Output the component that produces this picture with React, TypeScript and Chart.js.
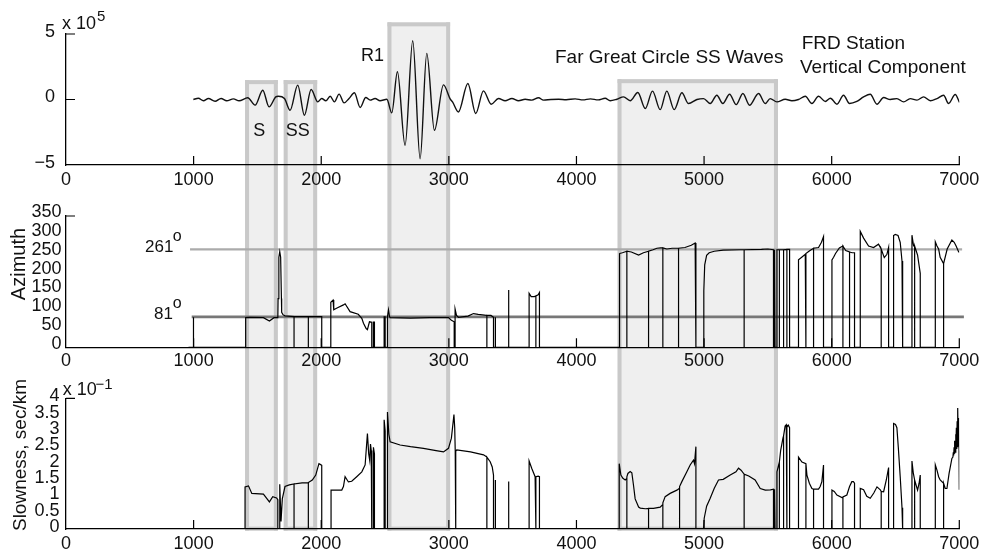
import React, { useEffect, useRef } from 'react';
import { Chart, registerables } from 'chart.js';

Chart.register(...registerables);

const FONT = '"Liberation Sans", Arial, Helvetica, sans-serif';

// ---------- axes ----------
const xTicks = [0, 1000, 2000, 3000, 4000, 5000, 6000, 7000];
const ampTicks = [-5, 0, 5]; // x 10^5
const azTicks = [0, 50, 100, 150, 200, 250, 300, 350];
const slowTicks = [0, 0.5, 1, 1.5, 2, 2.5, 3, 3.5, 4]; // x 10^-1

// ---------- highlighted windows ----------
const boxNames = ['S', 'SS', 'R1', 'Far Great Circle SS Waves'];
const boxStart = [1403, 1706, 2519, 4322];
const boxEnd = [1660, 1968, 3010, 5579];
const boxTop = [1.48, 1.48, 5.89, 1.55]; // top-panel units (x 10^5)
const boxBottom = -0.05; // slowness units

// ---------- reference azimuths ----------
const refAz = [261, 81];
const refAzStart = [972, 985];
const refAzEnd = [7022, 7036];

// ---------- seismogram (x 10^5 counts) ----------
const seismogram: [number, number][] = [
  [998, 0], [1037, 0.1], [1077, -0.1], [1116, 0.08], [1168, -0.13], [1215, 0.08], [1259, -0.1],
  [1312, 0.05], [1356, -0.1], [1424, 0.13], [1482, -0.43], [1542, 0.71], [1591, -0.56], [1644, 0.2],
  [1664, 0.25], [1712, 0.08], [1756, -0.82], [1816, 1.1], [1868, -1.2], [1921, 0.76], [1973, -0.18],
  [2004, 0.08], [2036, -0.1], [2070, 0.25], [2103, -0.18], [2140, 0.41], [2179, -0.26], [2218, 0.08],
  [2260, 0.51], [2305, -0.61], [2349, 0.15], [2383, -0.05], [2422, 0.08], [2461, -0.1], [2514, 0.02],
  [2553, -1.02], [2597, 2.12], [2657, -3.5], [2717, 4.49], [2775, -4.52], [2827, 3.52], [2887, -2.35],
  [2958, 1.12], [3010, 0.05], [3030, -0.2], [3075, -0.95], [3149, 1.22], [3211, -1.07], [3271, 0.66],
  [3332, -0.36], [3389, 0.08], [3441, -0.1], [3494, 0.08], [3546, -0.1], [3598, 0.02], [3650, -0.05],
  [3703, 0.13], [3742, -0.05], [3800, 0], [3860, 0.02], [3920, -0.02], [3990, 0.05], [4050, -0.03],
  [4110, 0.05], [4170, -0.03], [4225, 0.1], [4264, -0.1], [4317, 0.02], [4369, 0.2], [4421, -0.1],
  [4481, 0.53], [4539, -0.69], [4596, 0.64], [4656, -0.77], [4708, 0.64], [4766, -0.77], [4826, 0.51],
  [4878, -0.31], [4944, 0], [4996, 0.07], [5048, -0.31], [5100, 0.33], [5147, -0.31], [5200, 0.4],
  [5252, -0.39], [5304, 0.46], [5356, -0.44], [5427, 0.46], [5479, -0.31], [5518, 0.07], [5571, -0.18],
  [5636, 0.02], [5688, -0.1], [5740, 0], [5793, 0.25], [5845, -0.31], [5897, 0.25], [5950, -0.15],
  [5990, 0.1], [6041, -0.36], [6093, 0.33], [6140, -0.31], [6197, -0.15], [6250, 0.2], [6302, 0.4],
  [6355, -0.36], [6407, 0.15], [6459, 0], [6511, 0.07], [6564, -0.18], [6616, 0.07], [6668, -0.05],
  [6720, 0.2], [6773, -0.1], [6825, 0.07], [6877, 0.33], [6916, -0.31], [6968, 0.38], [7002, -0.23],
];

// ---------- azimuth (degrees) ----------
const azimuth: [number, number][] = [
  [960, 0], [998, 0], [998, 80], [1000, 0],
  [1408, 0], [1408, 79], [1440, 80], [1547, 79], [1594, 70], [1630, 79], [1660, 79], [1662, 130],
  [1668, 240], [1675, 255], [1682, 240], [1688, 130], [1690, 93], [1700, 87], [1716, 84], [1787, 82],
  [1787, 0], [1787, 82], [1850, 82], [1899, 82], [1899, 0], [1899, 82], [2004, 82], [2004, 0],
  [2075, 0], [2075, 120], [2093, 126], [2096, 126], [2100, 100], [2120, 104], [2174, 113], [2187, 116],
  [2226, 95], [2290, 88], [2318, 77], [2331, 64], [2352, 50], [2362, 47], [2378, 68], [2396, 67],
  [2396, 0], [2409, 0], [2409, 67], [2417, 67], [2417, 0],
  [2493, 0], [2493, 81], [2501, 81], [2501, 0], [2519, 0], [2519, 81], [2527, 100], [2535, 82],
  [2540, 79], [2700, 78], [2850, 79], [2997, 79], [3020, 72], [3042, 68], [3042, 0], [3049, 0],
  [3049, 102], [3060, 85], [3075, 80], [3150, 83], [3193, 90], [3230, 88], [3280, 86], [3298, 85],
  [3298, 0], [3298, 85], [3330, 85], [3350, 80], [3350, 0], [3362, 0], [3362, 80], [3366, 80], [3366, 0],
  [3467, 0], [3467, 153], [3471, 0],
  [3629, 0], [3629, 144], [3645, 135], [3670, 135], [3682, 137], [3682, 0], [3682, 137], [3700, 140],
  [3710, 146], [3710, 0],
  [4335, 0], [4335, 251], [4340, 250], [4360, 252], [4395, 256], [4395, 0], [4395, 256], [4430, 254],
  [4487, 246], [4525, 252], [4565, 256], [4565, 0], [4565, 256], [4600, 260], [4630, 264], [4660, 265],
  [4677, 265], [4677, 0], [4677, 265], [4708, 262], [4750, 264], [4800, 264], [4800, 0], [4800, 264],
  [4850, 266], [4900, 272], [4930, 278], [4936, 278], [4936, 0],
  [4996, 0], [4998, 150], [5005, 220], [5020, 245], [5040, 252], [5080, 256], [5150, 259], [5283, 260],
  [5314, 260], [5314, 0], [5314, 260], [5450, 261], [5500, 262], [5544, 260], [5544, 0], [5552, 0],
  [5552, 260], [5556, 0],
  [5571, 0], [5571, 260], [5590, 260], [5590, 0], [5590, 260], [5623, 260], [5623, 0], [5623, 260],
  [5649, 261], [5649, 0], [5649, 261], [5670, 261], [5670, 0],
  [5740, 0], [5740, 233], [5765, 240], [5793, 248], [5798, 250], [5798, 0], [5798, 250], [5830, 258],
  [5858, 264], [5858, 0], [5858, 264], [5897, 266], [5920, 280], [5936, 295], [5936, 0],
  [6002, 0], [6002, 233], [6015, 240], [6030, 250], [6060, 265], [6088, 270], [6088, 0], [6088, 270],
  [6110, 258], [6140, 254], [6140, 0], [6140, 254], [6160, 252], [6179, 252], [6179, 0],
  [6224, 0], [6224, 309], [6250, 291], [6289, 270], [6328, 266], [6367, 275], [6388, 262], [6388, 0],
  [6388, 262], [6412, 239], [6433, 248], [6446, 266], [6446, 0],
  [6485, 0], [6485, 298], [6498, 301], [6520, 298], [6537, 280], [6551, 230], [6556, 210], [6556, 0],
  [6629, 0], [6629, 299], [6642, 270], [6650, 270], [6650, 0], [6650, 270], [6673, 246], [6694, 197],
  [6694, 0],
  [6812, 0], [6812, 281], [6825, 270], [6838, 262], [6850, 240], [6877, 223], [6877, 0], [6877, 223],
  [6905, 262], [6942, 286], [6960, 280], [6975, 270], [6995, 254], [7002, 254], [7002, 0],
];

// ---------- slowness (x 10^-1 sec/km) ----------
const slowness: [number, number][] = [
  [960, 0],
  [1403, 0], [1403, 1.29], [1430, 1.32], [1456, 1.09], [1547, 1.07], [1594, 0.83], [1620, 0.99],
  [1650, 0.95], [1660, 0.9], [1660, 0], [1670, 0], [1675, 1.37], [1680, 0.8], [1685, 0.23], [1695, 0.92],
  [1716, 1.3], [1750, 1.35], [1787, 1.38], [1787, 0], [1787, 1.38], [1850, 1.41], [1899, 1.42],
  [1899, 0], [1899, 1.42], [1930, 1.5], [1957, 1.65], [1982, 2.0], [1995, 1.97], [2004, 1.95], [2004, 0],
  [2077, 0], [2077, 1.19], [2096, 1.19], [2161, 1.19], [2174, 1.3], [2187, 1.6], [2213, 1.44],
  [2239, 1.46], [2278, 1.6], [2318, 1.75], [2344, 1.96], [2362, 2.92], [2372, 2.3], [2380, 2.1],
  [2386, 2.6], [2392, 2.4], [2396, 2.0], [2396, 0], [2409, 0], [2409, 2.5], [2417, 2.3], [2417, 0],
  [2493, 0], [2493, 3.34], [2501, 3.0], [2501, 0], [2519, 0], [2519, 3.58], [2530, 2.9], [2540, 2.67],
  [2618, 2.57], [2700, 2.52], [2801, 2.47], [2900, 2.4], [2958, 2.36], [2997, 2.47], [3020, 2.78],
  [3040, 3.5], [3046, 3.1], [3050, 2.4], [3050, 0], [3056, 0], [3056, 2.38], [3062, 2.42], [3170, 2.36],
  [3272, 2.27], [3298, 2.2], [3298, 0], [3298, 2.2], [3324, 2.06], [3340, 1.9], [3350, 1.65], [3350, 0],
  [3362, 0], [3362, 1.5], [3366, 1.4], [3366, 0],
  [3467, 0], [3467, 1.45], [3471, 0],
  [3629, 0], [3629, 2.08], [3650, 1.85], [3676, 1.6], [3682, 1.6], [3682, 0], [3682, 1.6], [3700, 1.62],
  [3710, 1.6], [3710, 0],
  [4335, 0], [4335, 2.0], [4348, 1.65], [4364, 1.55], [4382, 1.5], [4395, 1.55], [4395, 0], [4395, 1.6],
  [4403, 1.7], [4421, 1.76], [4434, 1.72], [4447, 1.34], [4460, 0.92], [4487, 0.67], [4500, 0.64],
  [4540, 0.62], [4565, 0.63], [4565, 0], [4565, 0.63], [4604, 0.63], [4656, 0.67], [4677, 0.75],
  [4677, 0], [4677, 0.8], [4695, 0.99], [4734, 1.09], [4787, 1.19], [4808, 1.25], [4808, 0], [4808, 1.3],
  [4826, 1.45], [4865, 1.75], [4891, 1.96], [4917, 2.11], [4925, 2.0], [4936, 2.52], [4936, 0],
  [4996, 0], [5001, 0.33], [5020, 0.7], [5048, 0.94], [5080, 1.25], [5113, 1.5], [5150, 1.52],
  [5205, 1.65], [5250, 1.75], [5270, 1.86], [5290, 1.8], [5314, 1.68], [5314, 0], [5314, 1.68],
  [5350, 1.62], [5400, 1.5], [5440, 1.24], [5480, 1.19], [5520, 1.2], [5544, 1.22], [5544, 0],
  [5552, 0], [5552, 1.22], [5556, 0],
  [5571, 0], [5571, 1.75], [5590, 2.05], [5590, 0], [5590, 2.05], [5600, 2.4], [5618, 2.78], [5623, 2.85],
  [5623, 0], [5623, 2.85], [5635, 3.15], [5644, 3.19], [5649, 3.12], [5649, 0], [5649, 3.12], [5660, 3.18],
  [5670, 3.1], [5670, 0],
  [5740, 0], [5740, 2.2], [5767, 2.05], [5798, 2.0], [5798, 0], [5798, 2.0], [5806, 1.65], [5825, 1.4],
  [5845, 1.24], [5858, 1.22], [5858, 0], [5858, 1.22], [5897, 1.22], [5910, 1.3], [5923, 1.45],
  [5936, 1.96], [5936, 0],
  [6002, 0], [6002, 1.19], [6020, 1.15], [6041, 1.04], [6080, 0.96], [6088, 0.98], [6088, 0], [6088, 0.98],
  [6119, 1.04], [6140, 1.3], [6158, 1.45], [6170, 1.45], [6179, 1.4], [6179, 0],
  [6224, 0], [6224, 1.24], [6250, 1.2], [6275, 1.0], [6302, 0.94], [6330, 1.1], [6355, 1.29], [6381, 1.2],
  [6388, 1.15], [6388, 0], [6388, 1.15], [6407, 1.14], [6428, 1.5], [6446, 1.88], [6446, 0],
  [6485, 0], [6485, 3.23], [6500, 3.2], [6511, 3.1], [6522, 2.5], [6537, 1.6], [6551, 0.65], [6556, 0.6],
  [6556, 0],
  [6629, 0], [6629, 2.08], [6640, 1.7], [6650, 1.5], [6650, 0], [6650, 1.5], [6673, 1.19], [6685, 1.4],
  [6694, 1.65], [6694, 0],
  [6812, 0], [6812, 1.96], [6825, 1.8], [6838, 1.6], [6850, 1.5], [6877, 1.4], [6877, 0], [6877, 1.4],
  [6890, 1.24], [6903, 1.24], [6920, 1.7], [6942, 2.16], [6950, 2.2], [6953, 2.35], [6956, 2.25],
  [6959, 2.5], [6962, 2.3], [6965, 2.7], [6968, 2.35], [6971, 2.9], [6974, 2.4], [6977, 3.1],
  [6980, 2.45], [6983, 3.3], [6986, 2.5], [6989, 3.7], [6992, 2.55], [6995, 3.4], [6998, 2.4],
  [7000, 1.2], [7002, 0],
];

// ---------- plugins ----------
const boxPlugin = {
  id: 'boxes',
  beforeDraw(chart: any, _args: any, opts: any) {
    const { ctx } = chart;
    const xs = chart.scales.x;
    const ys = chart.scales.y;
    const H = chart.height;
    const bw = 4;
    ctx.save();
    for (let i = 0; i < boxStart.length; i++) {
      const x0 = xs.getPixelForValue(boxStart[i]);
      const x1 = xs.getPixelForValue(boxEnd[i]);
      let y0 = -1;
      let y1 = H + 1;
      if (opts.part === 'top') y0 = ys.getPixelForValue(boxTop[i]);
      if (opts.part === 'bottom') y1 = ys.getPixelForValue(boxBottom);
      ctx.fillStyle = '#efefef';
      ctx.fillRect(x0, y0, x1 - x0, y1 - y0);
      ctx.fillStyle = '#c9c9c9';
      ctx.fillRect(x0, y0, bw, y1 - y0);
      ctx.fillRect(x1 - bw, y0, bw, y1 - y0);
      if (opts.part === 'top') ctx.fillRect(x0, y0, x1 - x0, bw);
      if (opts.part === 'bottom') ctx.fillRect(x0, y1 - bw, x1 - x0, bw);
    }
    ctx.restore();
  },
};

const tickPlugin = {
  id: 'inTicks',
  afterDatasetsDraw(chart: any, _args: any, opts: any) {
    const { ctx, chartArea } = chart;
    const xs = chart.scales.x;
    const ys = chart.scales.y;
    ctx.save();
    ctx.strokeStyle = '#000';
    ctx.lineWidth = 1.2;
    ctx.beginPath();
    for (const v of xTicks) {
      if (v === 0) continue;
      const px = xs.getPixelForValue(v);
      ctx.moveTo(px, chartArea.bottom);
      ctx.lineTo(px, chartArea.bottom - 9);
    }
    for (const v of opts.y || []) {
      const py = ys.getPixelForValue(v);
      ctx.moveTo(chartArea.left, py);
      ctx.lineTo(chartArea.left + 9, py);
    }
    ctx.stroke();
    ctx.restore();
  },
};

function xScale(pad: number, h: number) {
  return {
    type: 'linear',
    min: 0,
    max: 7000,
    afterFit: (s: any) => { s.height = h; },
    afterBuildTicks: (s: any) => { s.ticks = xTicks.map((v) => ({ value: v })); },
    ticks: {
      autoSkip: false,
      maxRotation: 0,
      padding: pad,
      color: '#111',
      font: { family: FONT, size: 18 },
      callback: (v: any) => String(v),
    },
    grid: { display: false, drawTicks: false },
    border: { display: true, color: '#000', width: 1.3 },
  };
}

function yScale(min: number, max: number, ticks: number[], pad: number, off: number, fmt: (v: number) => string) {
  return {
    type: 'linear',
    min,
    max,
    afterFit: (s: any) => { s.width = 66; },
    afterBuildTicks: (s: any) => { s.ticks = ticks.map((v) => ({ value: v })); },
    ticks: {
      autoSkip: false,
      padding: pad,
      labelOffset: off,
      color: '#111',
      font: { family: FONT, size: 18 },
      callback: (v: any) => fmt(Number(v)),
    },
    grid: { display: false, drawTicks: false },
    border: { display: true, color: '#000', width: 1.3 },
  };
}

const pts = (a: [number, number][]) => a.map(([x, y]) => ({ x, y }));

function baseOptions(padTop: number, part: string, yT: number[]) {
  return {
    animation: false,
    responsive: false,
    events: [],
    layout: { padding: { top: padTop, right: 38.7, left: 0, bottom: 0 } },
    plugins: {
      legend: { display: false },
      tooltip: { enabled: false },
      boxes: { part },
      inTicks: { y: yT },
    },
  };
}

function topConfig(): any {
  return {
    type: 'line',
    data: {
      datasets: [
        {
          data: pts(seismogram),
          borderColor: '#111',
          borderWidth: 1.4,
          pointRadius: 0,
          cubicInterpolationMode: 'monotone',
          fill: false,
        },
      ],
    },
    options: {
      ...baseOptions(34, 'top', [5, 0]),
      scales: {
        x: xScale(4.2, 30),
        y: yScale(-5, 5, ampTicks, 11, -2.3, (v) => (v < 0 ? '\u2212' + Math.abs(v) : String(v))),
      },
    },
    plugins: [boxPlugin, tickPlugin],
  };
}

function midConfig(): any {
  return {
    type: 'line',
    data: {
      datasets: [
        {
          data: pts(azimuth),
          borderColor: '#000',
          borderWidth: 1.2,
          pointRadius: 0,
          tension: 0,
          fill: false,
        },
        {
          data: [{ x: refAzStart[1], y: refAz[1] }, { x: refAzEnd[1], y: refAz[1] }],
          borderColor: '#777',
          borderWidth: 2.8,
          pointRadius: 0,
          clip: 10,
        },
        {
          data: [{ x: refAzStart[0], y: refAz[0] }, { x: refAzEnd[0], y: refAz[0] }],
          borderColor: '#ababab',
          borderWidth: 2.2,
          pointRadius: 0,
          clip: 10,
        },
      ],
    },
    options: {
      ...baseOptions(21, 'mid', [350]),
      scales: {
        x: xScale(3.4, 24.7),
        y: yScale(0, 350, azTicks, 4.5, -3.5, (v) => String(v)),
      },
    },
    plugins: [boxPlugin, tickPlugin],
  };
}

function botConfig(): any {
  return {
    type: 'line',
    data: {
      datasets: [
        {
          data: pts(slowness),
          borderColor: '#000',
          borderWidth: 1.2,
          pointRadius: 0,
          tension: 0,
          fill: false,
        },
      ],
    },
    options: {
      ...baseOptions(26.3, 'bottom', [4]),
      scales: {
        x: xScale(4.7, 27),
        y: yScale(0, 4, slowTicks, 6.5, -2, (v) => String(v)),
      },
    },
    plugins: [boxPlugin, tickPlugin],
  };
}

function Txt(props: { x: number; b: number; s: number; children: any }) {
  const { x, b, s, children } = props;
  return (
    <div
      style={{
        position: 'absolute',
        left: x,
        top: b - 0.8465 * s,
        fontSize: s,
        lineHeight: `${s}px`,
        whiteSpace: 'nowrap',
      }}
    >
      {children}
    </div>
  );
}

function VTxt(props: { cx: number; cy: number; s: number; children: any }) {
  const { cx, cy, s, children } = props;
  return (
    <div
      style={{
        position: 'absolute',
        left: cx,
        top: cy,
        fontSize: s,
        lineHeight: `${s}px`,
        whiteSpace: 'nowrap',
        transform: 'translate(-50%, -50%) rotate(-90deg)',
      }}
    >
      {children}
    </div>
  );
}

export default function App() {
  const r1 = useRef<HTMLCanvasElement>(null);
  const r2 = useRef<HTMLCanvasElement>(null);
  const r3 = useRef<HTMLCanvasElement>(null);

  useEffect(() => {
    const charts = [
      new Chart(r1.current as HTMLCanvasElement, topConfig()),
      new Chart(r2.current as HTMLCanvasElement, midConfig()),
      new Chart(r3.current as HTMLCanvasElement, botConfig()),
    ];
    return () => charts.forEach((c) => c.destroy());
  }, []);

  return (
    <div
      style={{
        position: 'absolute',
        left: 0,
        top: 0,
        width: 998,
        height: 556,
        background: '#fff',
        overflow: 'hidden',
        fontFamily: FONT,
        color: '#111',
      }}
    >
      <canvas ref={r1} width={998} height={195} style={{ position: 'absolute', left: 0, top: 0, display: 'block' }} />
      <canvas ref={r2} width={998} height={177} style={{ position: 'absolute', left: 0, top: 195, display: 'block' }} />
      <canvas ref={r3} width={998} height={184} style={{ position: 'absolute', left: 0, top: 372, display: 'block' }} />

      {/* exponents */}
      <Txt x={62} b={29.3} s={18}>x 10</Txt>
      <Txt x={97} b={20.7} s={15}>5</Txt>
      <Txt x={62.7} b={395} s={18}>x 10</Txt>
      <Txt x={95.5} b={388.3} s={15}>{'\u22121'}</Txt>

      {/* window labels */}
      <Txt x={253.3} b={136.7} s={18}>{boxNames[0]}</Txt>
      <Txt x={285.7} b={136.7} s={18}>{boxNames[1]}</Txt>
      <Txt x={361} b={61.7} s={18}>{boxNames[2]}</Txt>
      <Txt x={555} b={63.3} s={19}>{boxNames[3]}</Txt>
      <Txt x={801.7} b={49.3} s={19}>FRD Station</Txt>
      <Txt x={800} b={72.7} s={19}>Vertical Component</Txt>

      {/* reference azimuth labels */}
      <Txt x={145} b={252.3} s={17}>{String(refAz[0])}</Txt>
      <Txt x={172.7} b={241.7} s={16}>o</Txt>
      <Txt x={154} b={319} s={17}>{String(refAz[1])}</Txt>
      <Txt x={172.7} b={308.3} s={16}>o</Txt>

      {/* axis titles */}
      <VTxt cx={18.3} cy={264.2} s={20}>Azimuth</VTxt>
      <VTxt cx={18.5} cy={455} s={19}>Slowness, sec/km</VTxt>
    </div>
  );
}
